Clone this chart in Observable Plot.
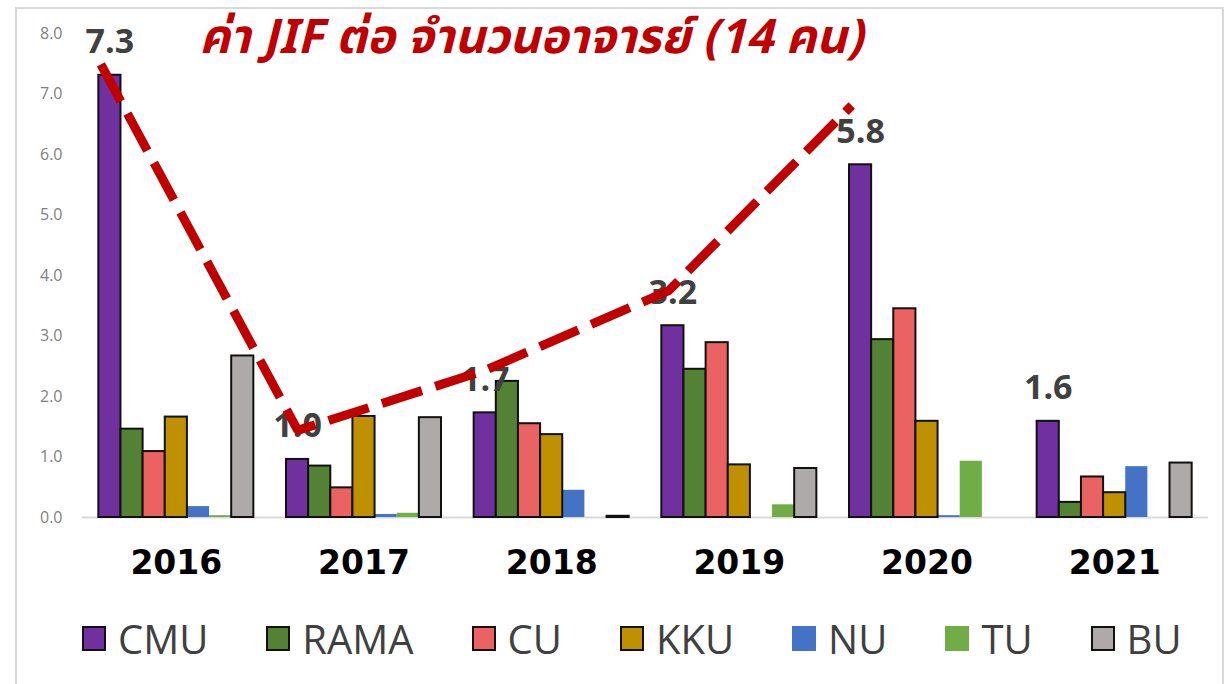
<!DOCTYPE html>
<html>
<head>
<meta charset="utf-8">
<script src="https://cdn.jsdelivr.net/npm/d3@7"></script>
<script src="https://cdn.jsdelivr.net/npm/@observablehq/plot@0.6"></script>
<style>
  html, body { margin: 0; padding: 0; background: #fff; overflow: hidden; }
  #wrap { position: relative; width: 1230px; height: 684px; }
  #frame { position: absolute; left: 15px; top: 7px; width: 1205px; height: 700px; border: 2px solid #d9d9d9; border-bottom: none; }
  #chart { position: absolute; left: 0; top: 0; }
  #title { position: absolute; left: 531px; top: 38px; transform: translate(-50%, -50%); white-space: nowrap;
    font-family: "Noto Sans Thai", "Noto Sans Thai UI", Tahoma, Loma, Garuda, "Noto Sans", "DejaVu Sans", sans-serif;
    font-size: 47.5px; font-weight: bold; font-style: italic; color: #C00000; }
  #legend { position: absolute; left: 82px; top: 611px; height: 54px; display: flex; align-items: center; gap: 58px;
    font-family: "Open Sans", sans-serif; font-size: 40px; color: #404040; }
  .item { display: flex; align-items: center; }
  .sw { width: 24px; height: 25px; box-sizing: border-box; margin-right: 12px; }
</style>
</head>
<body>
<div id="wrap">
  <div id="frame"></div>
  <div id="chart"></div>
  <div id="title"></div>
  <div id="legend"></div>
</div>
<script>
// ---- data ----
const years = ["2016", "2017", "2018", "2019", "2020", "2021"];
const seriesNames = ["CMU", "RAMA", "CU", "KKU", "NU", "TU", "BU"];
const seriesColors = ["#7030A0", "#548235", "#EB6262", "#BF9000", "#4472C4", "#70AD47", "#AEAAAA"];
const outlined = ["CMU", "RAMA", "CU", "KKU", "BU"];
const CMU  = [7.31, 0.96, 1.73, 3.17, 5.83, 1.59];
const RAMA = [1.46, 0.85, 2.25, 2.45, 2.94, 0.25];
const CU   = [1.09, 0.49, 1.55, 2.89, 3.45, 0.67];
const KKU  = [1.66, 1.67, 1.37, 0.87, 1.59, 0.41];
const NU   = [0.18, 0.05, 0.45, 0, 0.03, 0.84];
const TU   = [0.03, 0.07, 0, 0.21, 0.93, 0];
const BU   = [2.67, 1.65, 0.02, 0.81, 0, 0.90];
const valueLabels = ["7.3", "1.0", "1.7", "3.2", "5.8", "1.6"];
const yTicks = [0, 1, 2, 3, 4, 5, 6, 7, 8];
// hand-drawn red dashed trend (x in year-index units, y in value units)
const trendX = [-0.402, 0.647, 1.644, 2.624, 3.599];
const trendY = [7.49, 1.44, 2.43, 3.75, 6.81];
const titleText = "ค่า JIF ต่อ จำนวนอาจารย์ (14 คน)";

// ---- build ----
const seriesValues = [CMU, RAMA, CU, KKU, NU, TU, BU];
const BW = 0.118; // bar width in year-index units
const rows = [];
seriesNames.forEach((s, si) => seriesValues[si].forEach((v, yi) => {
  if (v > 0) rows.push({yi, si, series: s, value: v, color: seriesColors[si]});
}));
const x1 = d => d.yi + (d.si - 3.5) * BW;
const x2 = d => d.yi + (d.si - 2.5) * BW;
const trend = trendX.map((x, i) => ({x, y: trendY[i]}));

const plot = Plot.plot({
  width: 1230,
  height: 600,
  marginLeft: 82,
  marginRight: 22,
  marginTop: 33,
  marginBottom: 83,
  style: {background: "transparent", overflow: "visible"},
  x: {domain: [-0.5, 5.5], ticks: d3.range(years.length), tickFormat: i => years[i], tickSize: 0, tickPadding: 33, label: null},
  y: {domain: [0, 8], ticks: yTicks, tickFormat: d3.format(".1f"), tickSize: 0, tickPadding: 20, label: null},
  marks: [
    Plot.axisY({ticks: yTicks, tickFormat: d3.format(".1f"), tickSize: 0, tickPadding: 20, label: null,
      fontSize: 16, fontFamily: "Open Sans", fill: "#7f7f7f"}),
    Plot.axisX({ticks: d3.range(years.length), tickFormat: i => years[i], tickSize: 0, tickPadding: 33, label: null,
      fontSize: 33, fontWeight: "bold", fontFamily: "DejaVu Sans", fill: "#000"}),
    Plot.ruleY([0], {stroke: "#d9d9d9", strokeWidth: 2}),
    Plot.rect(rows.filter(d => !outlined.includes(d.series)), {x1, x2, y1: 0, y2: "value", fill: d => d.color}),
    Plot.rect(rows.filter(d => outlined.includes(d.series)), {x1, x2, y1: 0, y2: "value", fill: d => d.color, stroke: "#111", strokeWidth: 2}),
    Plot.text(d3.range(years.length), {x: i => i - 3 * BW, y: i => CMU[i], text: i => valueLabels[i], dy: -33,
      fontSize: 34, fontWeight: "bold", fontFamily: "Open Sans", fill: "#404040", lineAnchor: "middle", textAnchor: "middle"}),
    Plot.line(trend, {x: "x", y: "y", stroke: "#C00000", strokeWidth: 9, strokeDasharray: "42,14", strokeLinejoin: "miter", strokeLinecap: "butt"})
  ]
});
document.getElementById("chart").appendChild(plot);
document.getElementById("title").textContent = titleText;

const legend = document.getElementById("legend");
seriesNames.forEach((s, i) => {
  const item = document.createElement("div");
  item.className = "item";
  const sw = document.createElement("div");
  sw.className = "sw";
  sw.style.background = seriesColors[i];
  if (outlined.includes(s)) sw.style.border = "2px solid #111";
  const t = document.createElement("span");
  t.textContent = s;
  item.appendChild(sw);
  item.appendChild(t);
  legend.appendChild(item);
});
</script>
</body>
</html>
